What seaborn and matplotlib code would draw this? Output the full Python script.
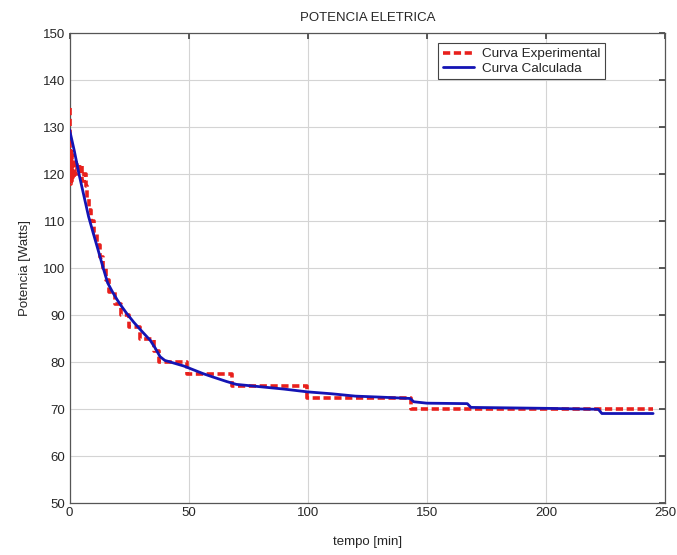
import matplotlib
matplotlib.use("Agg")
import matplotlib.pyplot as plt
import seaborn as sns
import pandas as pd

# Experimental curve (step data, steps-post)
exp_t = [0, 0.2, 0.5, 0.8, 1.1, 1.4, 1.8, 2.2, 3.0, 3.8, 4.6, 5.3, 6.0, 6.8, 7.4, 8.2,
         9.2, 10.2, 11.4, 12.6, 14.0, 15.2, 16.6, 19.0, 21.6, 25.0, 29.5, 35.5, 37.5,
         49.5, 68.0, 99.5, 143.5, 245.0]
exp_p = [134, 118, 125, 118.5, 124, 119, 122.5, 120, 122.5, 120, 122, 118.5, 120, 117.5,
         115, 112.5, 110, 107.5, 105, 102.5, 100, 97.5, 95, 92.5, 90, 87.5, 85, 82.5, 80,
         77.5, 75, 72.5, 70, 70]

# Calculated curve
calc_t = [0, 2, 4, 6, 8, 10, 12, 14, 16, 18, 20, 22, 24, 27, 30, 34, 36, 38, 40, 44, 48,
          52, 56, 60, 66, 70, 80, 90, 100, 110, 120, 130, 143, 144.5, 150, 167, 168.5, 200,
          222, 223.5, 245]
calc_p = [129.5, 125, 120, 115.5, 111, 107.4, 103.9, 100.3, 96.9, 95.0, 93.3, 91.8, 90.4,
          88.5, 86.8, 84.6, 83.0, 81.2, 80.4, 79.8, 79.2, 78.4, 77.6, 76.9, 75.9, 75.3,
          74.8, 74.3, 73.7, 73.3, 72.8, 72.6, 72.3, 71.6, 71.3, 71.2, 70.4, 70.2, 70.0,
          69.1, 69.1]

xticks = [0, 50, 100, 150, 200, 250]
yticks = [50, 60, 70, 80, 90, 100, 110, 120, 130, 140, 150]

sns.set_theme(style="white")
plt.rcParams['font.family'] = ['Liberation Sans', 'DejaVu Sans']

fig = plt.figure(figsize=(6.77, 5.55), dpi=100)
ax = fig.add_axes([0.1027, 0.0932, 0.8796, 0.8468])

df_exp = pd.DataFrame({"t": exp_t, "p": exp_p})
df_calc = pd.DataFrame({"t": calc_t, "p": calc_p})

sns.lineplot(data=df_exp, x="t", y="p", ax=ax, color="#e8201c", lw=2.6,
             linestyle=(0, (2.0, 1.0)), drawstyle="steps-post", estimator=None,
             sort=False, label="Curva Experimental", zorder=3)
sns.lineplot(data=df_calc, x="t", y="p", ax=ax, color="#1414b4", lw=2.0,
             estimator=None, sort=False, label="Curva Calculada", zorder=4)

ax.set_xlim(0, 250)
ax.set_ylim(50, 150)
ax.set_xticks(xticks)
ax.set_yticks(yticks)
ax.grid(True, color="#d4d4d4", lw=0.8)
ax.set_axisbelow(True)
ax.tick_params(direction="in", top=True, right=True, length=4, labelsize=9.5,
               color="#444444", pad=3)
for s in ax.spines.values():
    s.set_color("#555555")
    s.set_linewidth(0.9)

ax.set_title("POTENCIA ELETRICA", fontsize=9.5, pad=9)
ax.set_xlabel("tempo [min]", fontsize=9.5, labelpad=12)
ax.set_ylabel("Potencia [Watts]", fontsize=9.5, labelpad=9)

leg = ax.legend(loc="upper right", bbox_to_anchor=(0.899, 0.979), fontsize=9.7,
                frameon=True, fancybox=False, framealpha=1, edgecolor="#444444",
                borderpad=0.35, handlelength=2.3, handletextpad=0.6,
                labelspacing=0.15, borderaxespad=0)
leg.get_frame().set_linewidth(0.8)

fig.savefig("out.png", dpi=100)
